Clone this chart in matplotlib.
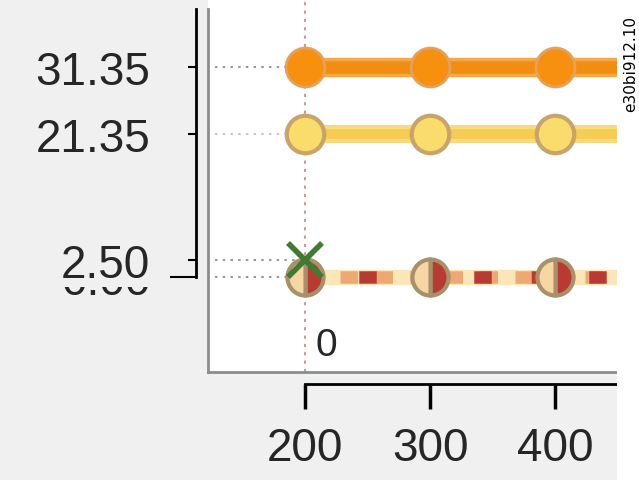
import numpy as np
import matplotlib
matplotlib.use("Agg")
import matplotlib.pyplot as plt
from matplotlib.patches import Rectangle

# data
x = [200, 300, 400, 500]
top_vals = [31.35, 31.35, 31.35, 31.35]
mid_vals = [21.35, 21.35, 21.35, 21.35]
zero_vals = [0.0, 0.0, 0.0, 0.0]
cross_x = [200]
cross_y = [2.50]
yticks = [0.00, 2.50, 21.35, 31.35]
ytick_labels = ['0.00', '2.50', '21.35', '31.35']
xticks = [200, 300, 400]
xtick_labels = ['200', '300', '400']
code_text = 'e30bi912.10'

fig = plt.figure(figsize=(6.39, 4.81), dpi=100)
fig.patch.set_facecolor('#f0f0f0')
# white strip on the right
fig.patches.append(Rectangle((617/639, 0), 22/639, 1, transform=fig.transFigure,
                             facecolor='white', edgecolor='none', zorder=0))

ax = fig.add_axes([208/639, 108/481, 409/639, 373/481])
ax.set_facecolor('white')
ax.set_xlim(122.4, 449.6)
ax.set_ylim(-14.18, 41.49)

# guide lines at x = 200
ax.axvline(200, color='#c99a9a', lw=1.5, ls=(0, (1.5, 2.5)), zorder=1)
for yv, c in [(31.35, '#9a9a9a'), (21.35, '#c8c8c8'), (2.50, '#9a9a9a'), (0.0, '#9a9a9a')]:
    ax.hlines(yv, 128, 196, colors=c, lw=1.5, ls=(0, (1.2, 2.5)), zorder=1)

# orange series
ax.plot(x, top_vals, color='#f6a846', lw=14, solid_capstyle='butt', zorder=3)
ax.plot(x, top_vals, color='#f18d10', lw=9, zorder=3,
        marker='o', ms=28, mfc='#f7900f', mec='#e3a25c', mew=2)
# yellow series
ax.plot(x, mid_vals, color='#f9d978', lw=13, solid_capstyle='butt', zorder=3)
ax.plot(x, mid_vals, color='#f5cc55', lw=7, zorder=3,
        marker='o', ms=27, mfc='#f9dc6c', mec='#c8a46a', mew=3)
# zero series
ax.plot(x, zero_vals, color='#fbe6b8', lw=11, zorder=3)
ax.plot(x, zero_vals, color='#eea874', lw=9, ls=(0, (1.4, 1.4)), dash_capstyle='butt', zorder=3)
ax.plot(x, zero_vals, color='#b93a32', lw=9, ls=(0.3, (1.4, 3.2)), dash_capstyle='butt', zorder=3)
ax.plot(x, zero_vals, ls='none', marker='o', ms=26, fillstyle='right',
        mfc='#b93a32', mfcalt='#f6d7a4', mec='#a8916a', mew=3, zorder=4)
# green cross
ax.plot(cross_x, cross_y, ls='none', marker='x', ms=24, mew=4, color='#3f7b30', zorder=5)

ax.text(216.8, -10.1, '0', fontsize=28, color='#262626', ha='center', va='center',
        family='Liberation Sans')

# axes styling
for s in ['top', 'right']:
    ax.spines[s].set_visible(False)
ax.spines['left'].set_position(('outward', 8.6))
ax.spines['bottom'].set_position(('outward', 8.6))
ax.spines['left'].set_bounds(0, 40.0)
ax.spines['bottom'].set_bounds(200, 449.6)
ax.spines['left'].set_linewidth(2)
ax.spines['bottom'].set_linewidth(2)

ax.set_yticks(yticks)
ax.set_yticklabels(ytick_labels)
ax.set_xticks(xticks)
ax.set_xticklabels(xtick_labels)
ax.tick_params(axis='y', length=6, width=1.5, pad=27, labelsize=33, labelcolor='#262626')
ax.tick_params(axis='x', length=18, width=2.5, pad=12, labelsize=33, labelcolor='#262626')
for lab in ax.get_yticklabels() + ax.get_xticklabels():
    lab.set_family('Liberation Sans')
ax.yaxis.get_major_ticks()[0].tick1line.set_markersize(19)
ax.get_yticklabels()[1].set_bbox(dict(facecolor='#f0f0f0', edgecolor='none', pad=0))

# gray frame of the plot box
ax.plot([0, 0], [0, (373 - 10) / 373], color='#8c8c8c', lw=2, transform=ax.transAxes, clip_on=False)
ax.plot([0, 1], [0, 0], color='#8c8c8c', lw=2, transform=ax.transAxes, clip_on=False)

fig.text(631/639, 1 - 64/481, code_text, rotation=90, fontsize=11, ha='center', va='center',
         color='black')

fig.savefig('out.png', dpi=100, facecolor=fig.get_facecolor())
